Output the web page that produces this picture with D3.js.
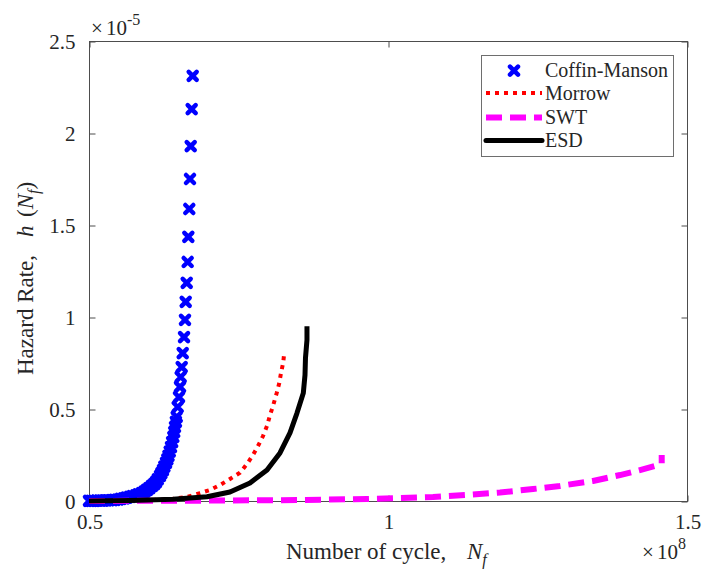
<!DOCTYPE html>
<html>
<head>
<meta charset="utf-8">
<script src="https://cdn.jsdelivr.net/npm/d3@7"></script>
<style>
  html, body { margin: 0; padding: 0; background: #fff; }
  svg { display: block; }
  text { font-family: "Liberation Serif", "Times New Roman", serif; fill: #262626; }
</style>
</head>
<body>
<svg id="chart" width="702" height="569"></svg>
<script>
// Cycles in units of 1e8, hazard rate in units of 1e-5
const seriesNames = ["Coffin-Manson", "Morrow", "SWT", "ESD"];

const cmCycles = [0.5000, 0.5040, 0.5084, 0.5130, 0.5184, 0.5230, 0.5284, 0.5330, 0.5385, 0.5430,
  0.5485, 0.5530, 0.5585, 0.5630, 0.5686, 0.5730, 0.5786, 0.5830, 0.5886, 0.5930,
  0.5970, 0.6010, 0.6054, 0.6090, 0.6120, 0.6150, 0.6187, 0.6210, 0.6237, 0.6260,
  0.6288, 0.6310, 0.6329, 0.6350, 0.6371, 0.6390, 0.6410, 0.6425, 0.6438, 0.6453,
  0.6467, 0.6483, 0.6505, 0.6522, 0.6533, 0.6550, 0.6567, 0.6589, 0.6605, 0.6617,
  0.6634, 0.6650, 0.6661, 0.6677, 0.6689, 0.6701, 0.6717, 0.6734];
const cmHazard = [0.0005, 0.0008, 0.001, 0.0015, 0.002, 0.0025, 0.003, 0.004, 0.005, 0.0065,
  0.008, 0.011, 0.014, 0.018, 0.022, 0.026, 0.030, 0.036, 0.043, 0.051,
  0.060, 0.070, 0.082, 0.092, 0.103, 0.118, 0.136, 0.151, 0.168, 0.187,
  0.207, 0.226, 0.245, 0.268, 0.293, 0.320, 0.348, 0.375, 0.402, 0.430,
  0.457, 0.511, 0.565, 0.620, 0.674, 0.728, 0.804, 0.891, 0.984, 1.082,
  1.185, 1.299, 1.435, 1.587, 1.750, 1.929, 2.130, 2.310];

const morCycles = [0.5000, 0.6020, 0.6355, 0.6639, 0.6856, 0.7023, 0.7191, 0.7358, 0.7525, 0.7642,
  0.7742, 0.7826, 0.7910, 0.7977, 0.8027, 0.8082, 0.8139, 0.8182, 0.8211, 0.8249, 0.8266];
const morHazard = [0.000, 0.005, 0.009, 0.022, 0.043, 0.060, 0.087, 0.120, 0.154, 0.201,
  0.250, 0.299, 0.353, 0.408, 0.467, 0.522, 0.587, 0.641, 0.696, 0.755, 0.810];

const swtCycles = [0.5000, 0.6856, 0.8528, 0.9649, 1.0753, 1.1321, 1.1873, 1.2425, 1.2876, 1.3428,
  1.3880, 1.4214, 1.4465, 1.4532, 1.4577, 1.4577];
const swtHazard = [0.000, 0.002, 0.005, 0.011, 0.022, 0.033, 0.046, 0.065, 0.082, 0.109,
  0.141, 0.168, 0.190, 0.201, 0.205, 0.250];

const esdCycles = [0.5000, 0.5686, 0.6405, 0.6973, 0.7358, 0.7692, 0.7977, 0.8194, 0.8361, 0.8478,
  0.8584, 0.8612, 0.8620, 0.8645, 0.8645];
const esdHazard = [0.000, 0.003, 0.009, 0.023, 0.049, 0.098, 0.168, 0.261, 0.370, 0.478,
  0.587, 0.685, 0.777, 0.875, 0.950];

const xTicks = [0.5, 1, 1.5];
const yTicks = [0, 0.5, 1, 1.5, 2, 2.5];
const xTickLabels = ["0.5", "1", "1.5"];
const yTickLabels = ["0", "0.5", "1", "1.5", "2", "2.5"];

const svg = d3.select("#chart");
const plotLeft = 89, plotRight = 687, plotTop = 41, plotBottom = 501;

const x = d3.scaleLinear().domain([0.5, 1.5]).range([plotLeft, plotRight]);
const y = d3.scaleLinear().domain([0, 2.5]).range([plotBottom, plotTop]);

const axisColor = "#4d4d4d";

// Axes box with inward ticks on all four sides
const gAx = svg.append("g");
gAx.append("rect")
  .attr("x", plotLeft + 0.5).attr("y", plotTop + 0.5)
  .attr("width", plotRight - plotLeft).attr("height", plotBottom - plotTop)
  .attr("fill", "none").attr("stroke", axisColor).attr("stroke-width", 1);

const tickLen = 6;
const bottomAxis = d3.axisBottom(x).tickValues(xTicks).tickSize(-tickLen).tickFormat((d, i) => xTickLabels[i]).tickPadding(13);
const topAxis = d3.axisTop(x).tickValues(xTicks).tickSize(-tickLen).tickFormat("");
const leftAxis = d3.axisLeft(y).tickValues(yTicks).tickSize(-tickLen).tickFormat((d, i) => yTickLabels[i]).tickPadding(14);
const rightAxis = d3.axisRight(y).tickValues(yTicks).tickSize(-tickLen).tickFormat("");

function styleAxis(g) {
  g.select(".domain").remove();
  g.selectAll(".tick line").attr("stroke", axisColor);
  g.selectAll(".tick text").attr("font-size", 21).attr("fill", "#262626");
}
gAx.append("g").attr("transform", `translate(0.5,${plotBottom + 0.5})`).call(bottomAxis).call(styleAxis);
gAx.append("g").attr("transform", `translate(0.5,${plotTop + 0.5})`).call(topAxis).call(styleAxis);
gAx.append("g").attr("transform", `translate(${plotLeft + 0.5},0.5)`).call(leftAxis).call(styleAxis);
gAx.append("g").attr("transform", `translate(${plotRight + 0.5},0.5)`).call(rightAxis).call(styleAxis);

// Exponent multipliers
function exponent(x0, baseline, power) {
  const t = svg.append("text").attr("y", baseline).attr("font-size", 21);
  t.append("tspan").attr("x", x0).text("×");
  t.append("tspan").attr("x", x0 + 15).text("10");
  t.append("tspan").attr("dy", -10).attr("font-size", 16).text(power);
}
exponent(91, 35, "-5");
exponent(642, 559, "8");

// Axis titles
const xLab = svg.append("text").attr("y", 559).attr("font-size", 23);
xLab.append("tspan").attr("x", 286).text("Number of cycle,");
xLab.append("tspan").attr("x", 467).attr("font-style", "italic").text("N");
xLab.append("tspan").attr("font-style", "italic").attr("font-size", 16).attr("dy", 6).text("f");

const yLab = svg.append("text")
  .attr("transform", "translate(33,0) rotate(-90)")
  .attr("font-size", 23);
yLab.append("tspan").attr("x", -375).text("Hazard Rate,");
yLab.append("tspan").attr("x", -237).attr("font-style", "italic").text("h");
yLab.append("tspan").attr("x", -217).text("(");
yLab.append("tspan").attr("font-style", "italic").text("N");
yLab.append("tspan").attr("font-style", "italic").attr("font-size", 16).attr("dy", 6).text("f");
yLab.append("tspan").attr("dy", -6).text(")");

// Series
const line = d3.line().x(d => x(d[0])).y(d => y(d[1]));
const zip = (a, b) => a.map((v, i) => [v, b[i]]);

const crossPath = "M-4,-4L4,4M-4,4L4,-4";
const gData = svg.append("g");

gData.append("g").selectAll("path")
  .data(zip(cmCycles, cmHazard))
  .join("path")
  .attr("d", crossPath)
  .attr("transform", d => `translate(${x(d[0])},${y(d[1])})`)
  .attr("fill", "none").attr("stroke", "#0000ff")
  .attr("stroke-width", 4.5).attr("stroke-linecap", "round");

gData.append("path")
  .datum(zip(morCycles, morHazard))
  .attr("d", line)
  .attr("fill", "none").attr("stroke", "#ff0000")
  .attr("stroke-width", 4).attr("stroke-dasharray", "4 5");

gData.append("path")
  .datum(zip(swtCycles, swtHazard))
  .attr("d", line)
  .attr("fill", "none").attr("stroke", "#ff00ff")
  .attr("stroke-width", 6).attr("stroke-dasharray", "16 8");

gData.append("path")
  .datum(zip(esdCycles, esdHazard))
  .attr("d", line)
  .attr("fill", "none").attr("stroke", "#000000")
  .attr("stroke-width", 5).attr("stroke-linejoin", "round");

// Legend
const lg = svg.append("g");
lg.append("rect").attr("x", 481.5).attr("y", 55.5).attr("width", 192).attr("height", 101)
  .attr("fill", "#fff").attr("stroke", "#6e6e6e").attr("stroke-width", 1);

const rowY = [70.7, 93, 117.5, 140.5];
const lx0 = 486, lx1 = 542, ltx = 545;

lg.append("path").attr("d", crossPath)
  .attr("transform", `translate(${(lx0 + lx1) / 2},${rowY[0]})`)
  .attr("fill", "none").attr("stroke", "#0000ff").attr("stroke-width", 4.5).attr("stroke-linecap", "round");
lg.append("line").attr("x1", lx0).attr("x2", lx1).attr("y1", rowY[1]).attr("y2", rowY[1])
  .attr("stroke", "#ff0000").attr("stroke-width", 4).attr("stroke-dasharray", "4 5");
lg.append("line").attr("x1", lx0).attr("x2", lx1).attr("y1", rowY[2]).attr("y2", rowY[2])
  .attr("stroke", "#ff00ff").attr("stroke-width", 6).attr("stroke-dasharray", "16 8");
lg.append("line").attr("x1", lx0).attr("x2", lx1).attr("y1", rowY[3]).attr("y2", rowY[3])
  .attr("stroke", "#000").attr("stroke-width", 5).attr("stroke-linecap", "round");

lg.selectAll("text.lbl").data(seriesNames).join("text")
  .attr("class", "lbl")
  .attr("x", ltx).attr("y", (d, i) => rowY[i] + 6.5)
  .attr("font-size", 20).text(d => d);
</script>
</body>
</html>
